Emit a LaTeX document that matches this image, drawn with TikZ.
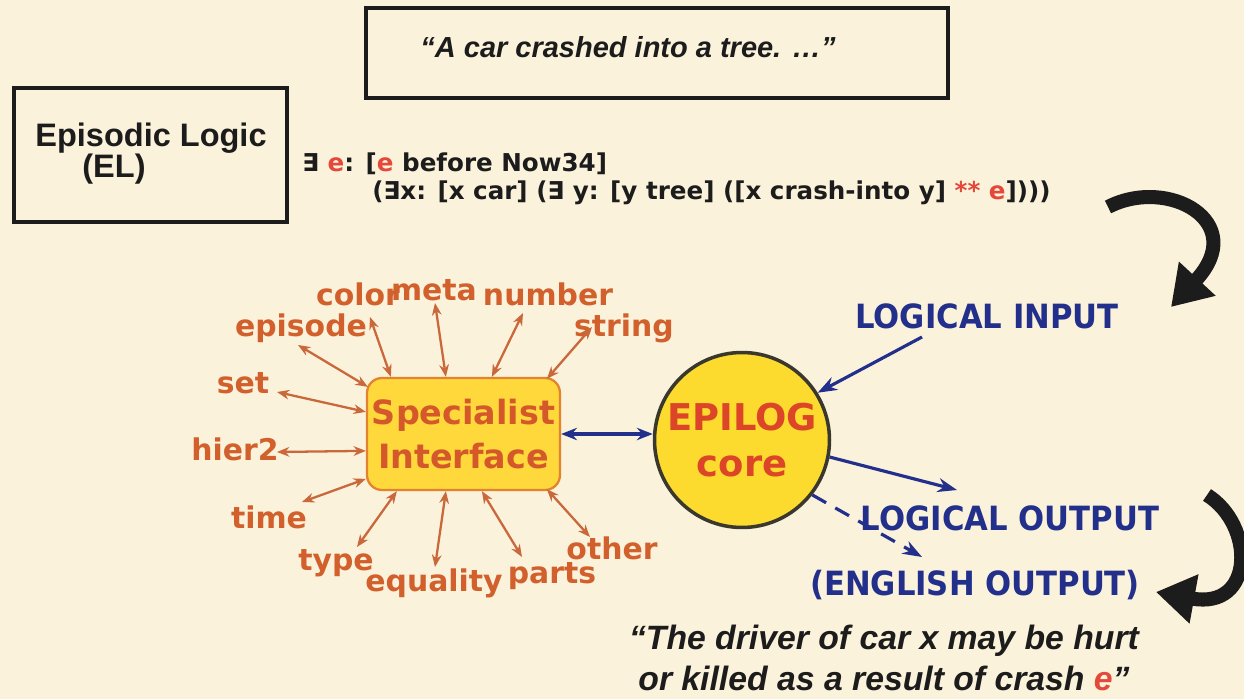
\documentclass[tikz,border=0pt]{standalone}
\usepackage{fontspec}
\usetikzlibrary{arrows.meta,calc}

\newfontfamily\dejavu{DejaVu Sans}
\newfontfamily\dejavunarrow{DejaVu Sans}[FakeStretch=0.92]
\newfontfamily\arialfont{Liberation Sans}

\definecolor{bgcream}{HTML}{FBF2DB}
\definecolor{lblorange}{HTML}{D2602C}
\definecolor{spokeorange}{HTML}{C9683A}
\definecolor{specfill}{HTML}{FFD83C}
\definecolor{specborder}{HTML}{E4832E}
\definecolor{spectext}{HTML}{D4582A}
\definecolor{corefill}{HTML}{FCDB2E}
\definecolor{coreline}{HTML}{3A382C}
\definecolor{coretext}{HTML}{DC4528}
\definecolor{flowblue}{HTML}{22308C}
\definecolor{formred}{HTML}{E4483A}
\definecolor{inkblack}{HTML}{1C1C1C}

\tikzset{
  framebox/.style={draw=inkblack, line width=2pt, inner sep=0pt},
  eltext/.style={font=\arialfont\bfseries\fontsize{18.5}{22}\selectfont, text=inkblack, inner sep=0pt, anchor=base},
  quote/.style={font=\arialfont\bfseries\itshape\fontsize{16.5}{20}\selectfont, text=inkblack, inner sep=0pt},
  formula/.style={font=\dejavu\bfseries\fontsize{14}{17}\selectfont, text=inkblack, inner sep=0pt, anchor=base west},
  lbl/.style={font=\dejavu\bfseries\fontsize{17}{20}\selectfont, text=lblorange, inner sep=0pt, anchor=base},
  spoke/.style={draw=spokeorange, line width=1.3pt,
    arrows={Stealth[length=7pt,width=5.5pt]-Stealth[length=7pt,width=5.5pt]}},
  iolabel/.style={font=\dejavunarrow\bfseries\fontsize{19}{23}\selectfont, text=flowblue, inner sep=0pt, anchor=base},
  flow/.style={draw=flowblue, line width=1.8pt, arrows={-Stealth[length=11pt,width=8pt]}},
  bigturn/.style={draw=inkblack, line width=8pt, arrows={-Triangle[length=22pt,width=27pt]}},
}

\begin{document}
\begin{tikzpicture}[x=0.02cm,y=-0.02cm]
  % page
  \fill[bgcream] (0,0) rectangle (1244,699);
  \useasboundingbox (0,0) rectangle (1244,699);

  % input sentence
  \node[framebox, minimum width=11.64cm, minimum height=1.8cm] (sentbox) at (657,53) {};
  \node[quote, anchor=base] (sent) at (628,58) {“A car crashed into a tree. …”};

  % Episodic Logic label
  \node[framebox, minimum width=5.46cm, minimum height=2.68cm] (elbox) at (150.5,155) {};
  \node[eltext] (eltitle) at (151,147) {Episodic Logic};
  \node[eltext] (elabbr) at (114,178) {(EL)};

  % EL formula
  \node[formula] (form1) at (302,172)
    {∃ \textcolor{formred}{e}: [\textcolor{formred}{e} before Now34]};
  \node[formula] (form2) at (372,200)
    {(∃x: [x car] (∃ y: [y tree] ([x crash-into y] \textcolor{formred}{** e}])))};

  % specialist interface
  \node[draw=specborder, fill=specfill, line width=1.3pt, rounded corners=0.3cm,
        minimum width=3.86cm, minimum height=2.24cm, inner sep=0pt, align=center,
        font=\dejavu\bfseries\fontsize{19}{25}\selectfont, text=spectext]
        (spec) at (463.5,434) {Specialist\\Interface};

  % EPILOG core
  \node[circle, draw=coreline, fill=corefill, line width=2pt, minimum size=3.5cm,
        inner sep=0pt, align=center,
        font=\dejavu\bfseries\fontsize{21}{26.6}\selectfont, text=coretext]
        (epi) at (742,440) {EPILOG\\core};

  % specialists
  \node[lbl] (color)    at (358,305) {color};
  \node[lbl] (meta)     at (434,300) {meta};
  \node[lbl] (number)   at (548,305) {number};
  \node[lbl] (string)   at (624,337) {string};
  \node[lbl] (episode)  at (301,337) {episode};
  \node[lbl] (set)      at (243,393) {set};
  \node[lbl] (hier)     at (235,460) {hier2};
  \node[lbl] (time)     at (269,528) {time};
  \node[lbl] (type)     at (336,570) {type};
  \node[lbl] (equality) at (434,591) {equality};
  \node[lbl] (parts)    at (552,583) {parts};
  \node[lbl] (other)    at (612,559) {other};

  % outer ends of the specialist spokes
  \coordinate (color-end)    at (370,317);
  \coordinate (meta-end)     at (435,303);
  \coordinate (number-end)   at (523,313);
  \coordinate (string-end)   at (592,327);
  \coordinate (episode-end)  at (298,345);
  \coordinate (set-end)      at (277,392);
  \coordinate (hier-end)     at (277,452);
  \coordinate (time-end)     at (302,502);
  \coordinate (type-end)     at (357,547);
  \coordinate (equality-end) at (435,567);
  \coordinate (parts-end)    at (522,557);
  \coordinate (other-end)    at (590,537);

  \draw[spoke] (color-end)    -- ($(spec.north west)+(25,0)$);
  \draw[spoke] (meta-end)     -- ($(spec.north west)+(80,0)$);
  \draw[spoke] (number-end)   -- ($(spec.north west)+(126,0)$);
  \draw[spoke] (string-end)   -- ($(spec.north west)+(181,2)$);
  \draw[spoke] (episode-end)  -- ($(spec.north west)+(2,10)$);
  \draw[spoke] (set-end)      -- ($(spec.north west)+(0,35)$);
  \draw[spoke] (hier-end)     -- ($(spec.north west)+(0,74)$);
  \draw[spoke] (time-end)     -- ($(spec.north west)+(0,102)$);
  \draw[spoke] (type-end)     -- ($(spec.south west)+(31,0)$);
  \draw[spoke] (equality-end) -- ($(spec.south west)+(80,0)$);
  \draw[spoke] (parts-end)    -- ($(spec.south west)+(116,0)$);
  \draw[spoke] (other-end)    -- ($(spec.south west)+(181,-2)$);

  % interface <-> core
  \draw[flow, arrows={Stealth[length=9pt,width=7pt]-Stealth[length=9pt,width=7pt]}]
    (spec.east) -- (spec.east -| epi.west);

  % input and outputs
  \node[iolabel] (lin)  at (987,328) {LOGICAL INPUT};
  \node[iolabel] (lout) at (1010,530) {LOGICAL OUTPUT};
  \node[iolabel] (eout) at (975,595) {(ENGLISH OUTPUT)};

  \coordinate (lin-start) at (922,337);
  \coordinate (lout-tip)  at (957,490);
  \coordinate (eout-tip)  at (922,557);

  \draw[flow] (lin-start) -- (epi.32);
  \draw[flow] (epi.-11) -- (lout-tip);
  \draw[flow, dashed, dash pattern=on 9pt off 6pt] (epi.-38) -- (eout-tip);

  % generated sentence
  \node[quote, font=\arialfont\bfseries\itshape\fontsize{19.2}{23.5}\selectfont, align=center]
    (gen) at (884,658)
    {“The driver of car x may be hurt\\or killed as a result of crash \textcolor{formred}{e}”};

  % turning arrows
  \coordinate (turnA-start) at (1108,207);
  \coordinate (turnA-end)   at (1171,307);
  \draw[bigturn] (turnA-start) .. controls (1168,176) and (1250,222) .. (turnA-end);

  \coordinate (turnB-start) at (1207,495);
  \coordinate (turnB-end)   at (1156,592);
  \draw[bigturn] (turnB-start) .. controls (1255,525) and (1255,610) .. (turnB-end);
\end{tikzpicture}
\end{document}
